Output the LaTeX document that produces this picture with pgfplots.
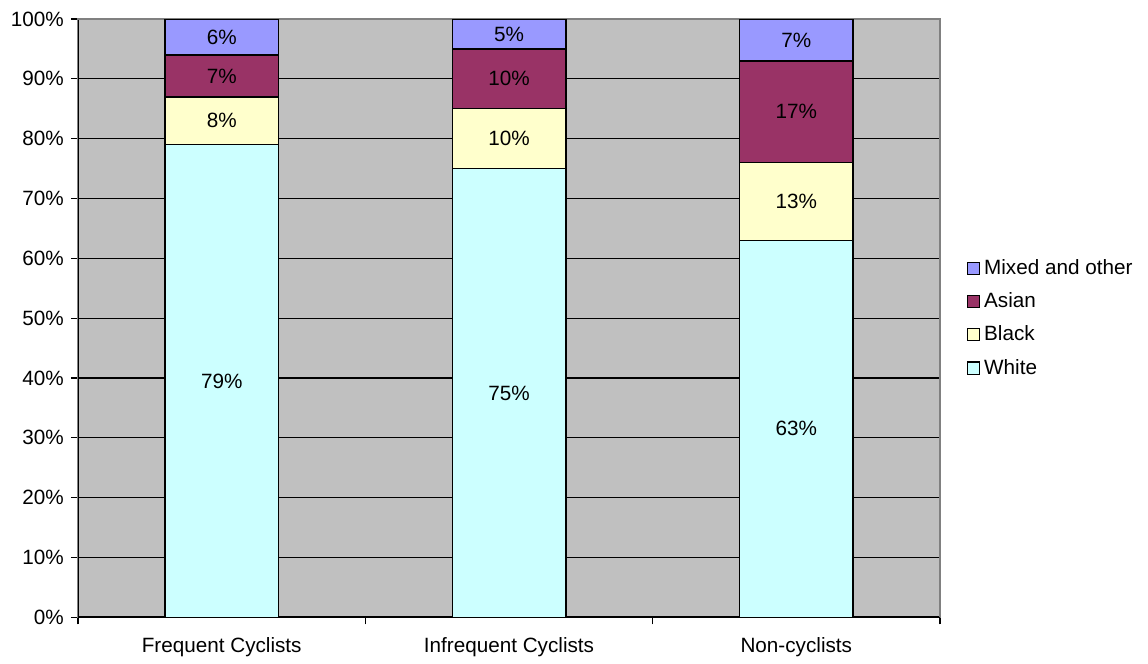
\documentclass[border=0pt]{standalone}
\usepackage{pgfplots}
\pgfplotsset{compat=1.18}
\usepackage{fontspec}
\setmainfont{Liberation Sans}

\definecolor{cwhite}{HTML}{CCFFFF}
\definecolor{cblack}{HTML}{FFFFCC}
\definecolor{casian}{HTML}{993366}
\definecolor{cmixed}{HTML}{9999FF}
\definecolor{plotbg}{HTML}{C0C0C0}
\definecolor{frame}{HTML}{808080}

\begin{document}
\begin{tikzpicture}
\begin{axis}[
    scale only axis,
    width=425pt, height=295pt,
    font=\fontsize{10.2}{12}\selectfont,
    ybar stacked,
    bar width=56pt,
    xmin=-0.5, xmax=2.5,
    ymin=0, ymax=100,
    xtick={0,1,2},
    xticklabels={Frequent Cyclists, Infrequent Cyclists, Non-cyclists},
    major x tick style={draw=none},
    minor xtick={-0.5,0.5,1.5,2.5},
    minor x tick style={black, line width=0.6pt},
    minor tick length=3.5pt,
    ytick={0,10,...,100},
    yticklabel={\pgfmathprintnumber{\tick}\%},
    y tick style={black, line width=0.6pt},
    major tick length=3.5pt,
    tick align=outside,
    xtick pos=bottom, ytick pos=left,
    xticklabel style={yshift=-3pt},
    ymajorgrids,
    major grid style={black, line width=0.5pt},
    axis background/.style={fill=plotbg},
    axis line style={frame, line width=0.7pt},
    /pgf/number format/assume math mode=true,
    every axis plot/.append style={draw=black, line width=0.7pt},
    point meta=rawy,
    nodes near coords={\pgfmathprintnumber{\pgfplotspointmeta}\%},
    every node near coord/.append style={anchor=center, text=black},
    legend style={
        at={(1,0.5)}, anchor=west, xshift=10pt,
        draw=none, fill=none,
        row sep=3.5pt,
        font=\fontsize{10.2}{12}\selectfont,
        legend cell align=left},
    reverse legend,
    legend image code/.code={
        \draw[#1, line width=0.6pt] (0pt,-3pt) rectangle (6pt,3pt);},
]
\addplot[fill=cwhite] coordinates {(0,79) (1,75) (2,63)};
\addplot[fill=cblack] coordinates {(0,8) (1,10) (2,13)};
\addplot[fill=casian] coordinates {(0,7) (1,10) (2,17)};
\addplot[fill=cmixed] coordinates {(0,6) (1,5) (2,7)};
\legend{White, Black, Asian, Mixed and other}
\draw[frame, line width=0.8pt] (rel axis cs:0,1) -- (rel axis cs:1,1) -- (rel axis cs:1,0);
\draw[black, line width=0.8pt] (rel axis cs:0,1) -- (rel axis cs:0,0) -- (rel axis cs:1,0);
\end{axis}
% white margin around the chart
\path ([xshift=-38.5pt, yshift=-22.2pt]current axis.south west)
      rectangle ([xshift=102.6pt, yshift=9.4pt]current axis.north east);
\end{tikzpicture}
\end{document}
